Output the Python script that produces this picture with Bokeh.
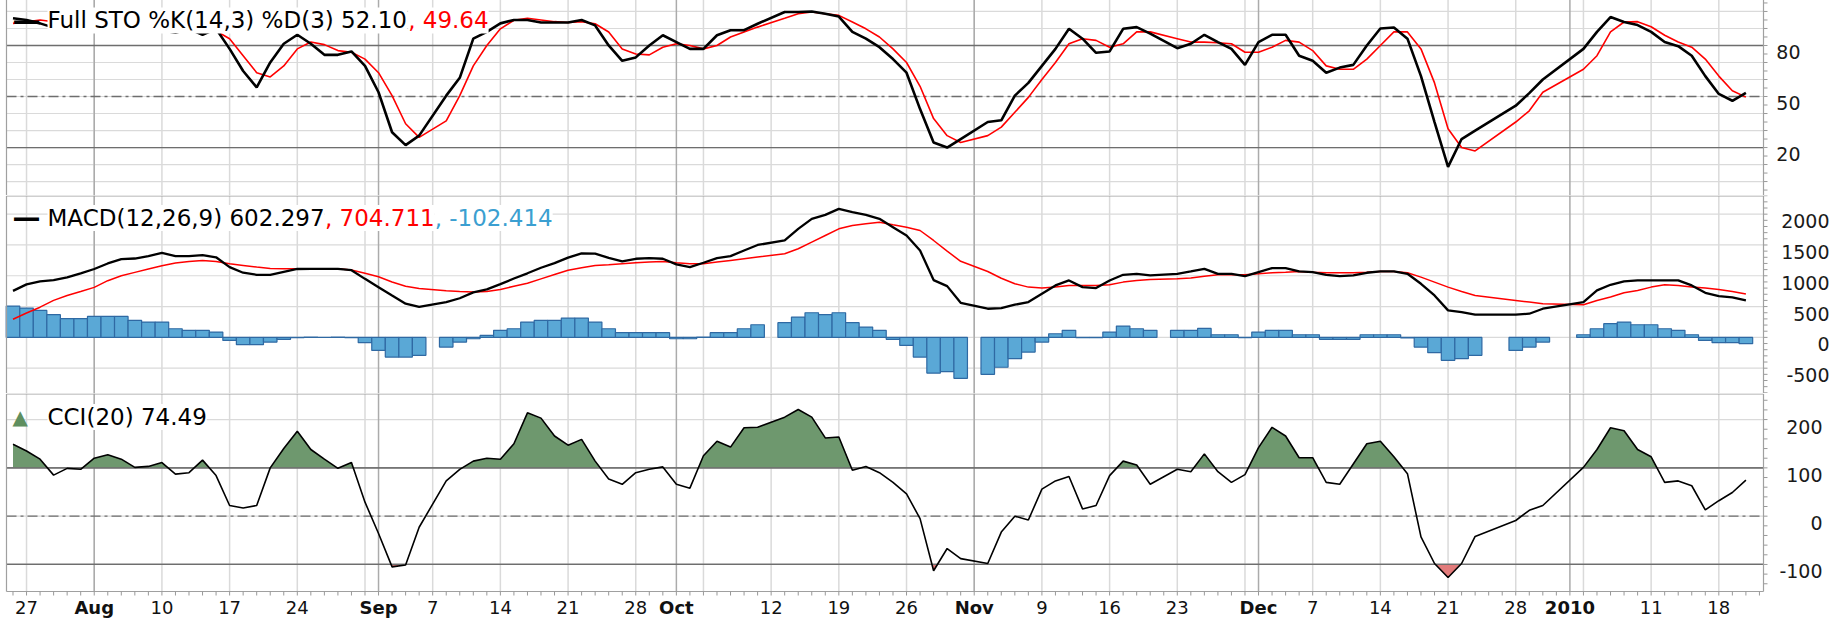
import numpy as np
import pandas as pd
from bokeh.plotting import figure
from bokeh.models import Range1d, Label
from bokeh.layouts import column
from bokeh.embed import file_html
from bokeh.resources import INLINE

# ---------------- calendar ----------------
first_day = "2009-07-24"
last_day = "2010-01-20"
holidays = ["2009-09-07", "2009-10-12", "2009-11-02", "2009-11-20",
            "2009-12-24", "2009-12-25", "2009-12-31", "2010-01-01"]

# ---------------- series (one value per trading day) ----------------
stoch_k = [96, 95, 93, 90.5, 89.8, 91.5, 94, 95, 93, 89, 89, 89, 87.5, 89.8, 86.3, 89.8, 78, 65, 55.4, 70, 81, 86.3, 81, 74.5, 74.5, 76.5, 68, 52.5, 29, 21.4, 27,
           50.5, 61, 84, 88, 93, 95, 95, 93.5, 93.5, 93.5, 95, 91.8, 80, 71, 73, 80, 86, 82, 78, 78, 86, 89, 89, 92.8,
           99.7, 99.7, 100, 98.7, 97, 88, 84, 79, 72, 64, 42.6, 23, 20, 25,
           35, 36, 50.5, 58, 68, 78, 89.8, 84, 75.7, 76.5, 89.8, 90.8, 87,
           78.4, 81, 86.3, 82, 78, 68.6, 82, 86.3, 86.3, 74, 71, 64, 67, 68.6, 80, 90, 90.6, 84, 62, 35, 8.6, 25, 30,
           44.6, 52, 60,
           78, 88, 96.7, 93.8, 92, 88, 82, 79.6, 74, 62, 51.5, 47.5, 52.10]
stoch_d = [93, 94, 95, 94, 92, 91, 92, 93.5, 91, 89, 88.9, 88.5, 88.3, 88.9, 87.5, 88.5, 84, 74, 64, 61.5, 68, 78, 82, 80.5, 77, 76, 72, 64, 50.5, 34, 26,
           35.7, 50.5, 68, 80, 89.8, 94.8, 96, 95, 94, 93.5, 94, 92.8, 87.9, 78, 75, 74.5, 79, 81, 80, 78, 80, 85, 88, 90.8,
           96, 98.7, 99.7, 98.7, 97.7, 93.8, 89.8, 85, 78, 70, 56, 37, 27, 23,
           27, 32, 40.7, 49.5, 60, 70, 81, 84, 83, 79, 81, 88, 88,
           84, 82, 82, 81.6, 81, 76, 76, 79, 83, 82, 77, 68, 66, 66, 72, 80, 88, 88, 78, 58, 31, 20, 18,
           35, 41.6, 52.5,
           66, 74, 88, 93.8, 94, 91, 86, 82, 79, 72, 62, 53.4, 49.64]
macd_line = [755, 860, 910, 930, 975, 1040, 1110, 1200, 1270, 1280, 1320, 1370, 1320, 1320, 1335, 1300, 1140, 1050, 1016, 1016, 1065, 1110, 1113, 1113, 1113, 1090, 950, 815, 680, 546, 495,
             573, 635, 730, 780, 865, 955, 1040, 1130, 1205, 1295, 1365, 1360, 1290, 1232, 1276, 1286, 1276, 1185, 1140, 1211, 1286, 1319, 1411, 1500,
             1573, 1760, 1924, 1989, 2086, 2032, 1989, 1924, 1789, 1654, 1411, 930, 832, 562,
             465, 476, 530, 573, 708, 843, 924, 816, 800, 924, 1016, 1032, 1005,
             1032, 1070, 1113, 1032, 1032, 994, 1059, 1124, 1124, 1070, 1059, 1016, 994, 1005, 1049, 1070, 1070, 1032, 870, 681, 438, 411, 368,
             368, 384, 465,
             573, 762, 854, 908, 924, 924, 924, 924, 843, 724, 670, 650, 602.297]
macd_signal = [295, 395, 490, 600, 680, 745, 812, 920, 1000, 1055, 1110, 1163, 1208, 1230, 1248, 1232, 1195, 1168, 1141, 1118, 1113, 1113, 1113, 1113, 1113, 1095, 1040, 984, 900, 830, 795,
               755, 745, 738, 746, 778, 830, 880, 950, 1020, 1090, 1130, 1165, 1178, 1195, 1211, 1222, 1232, 1211, 1195, 1195, 1222, 1249, 1276, 1303,
               1357, 1438, 1546, 1654, 1762, 1816, 1843, 1870, 1827, 1789, 1735, 1573, 1400, 1235,
               1070, 960, 870, 816, 800, 816, 843, 843, 843, 854, 897, 924, 940,
               951, 962, 994, 1016, 1016, 1016, 1032, 1049, 1059, 1070, 1059, 1049, 1049, 1049, 1059, 1070, 1070, 1049, 978, 897, 816, 746, 681,
               600, 573, 546,
               530, 600, 654, 724, 762, 816, 854, 843, 816, 800, 778, 746, 704.711]
macd_hist = [508, 476, 438, 368, 303, 303, 340, 340, 340, 276, 249, 249, 140, 114, 114, 86, -49, -119, -119, -76, -32, -5, 3, 2, 3, -3, -86, -211, -319, -319, -292,
             -157, -76, -22, 32, 114, 140, 249, 276, 276, 313, 313, 249, 140, 76, 76, 76, 76, -22, -22, 3, 76, 76, 140, 205,
             238, 330, 400, 368, 400, 238, 168, 114, -32, -130, -319, -580, -555, -665,
             -600, -485, -346, -238, -76, 59, 114, -3, -3, 86, 184, 140, 114,
             114, 114, 145, 43, 43, -3, 86, 114, 114, 43, 43, -32, -32, -32, 43, 43, 43, -10, -157, -249, -373, -346, -292,
             -211, -157, -76,
             43, 140, 222, 249, 205, 205, 140, 114, 43, -49, -86, -86, -102.414]
cci = [149, 135, 118, 85, 99, 97, 120, 127, 118, 101, 103, 111, 87, 90, 116, 84, 22, 17, 22, 100, 140, 176, 138, 118, 99, 111, 29, -36, -105, -101, -23,
       73, 97, 114, 120, 118, 150, 214, 203, 166, 147, 159, 114, 77, 66, 90, 97, 102, 66, 58, 125, 155, 143, 183, 184,
       205, 221, 205, 162, 164, 95, 103, 90, 70, 46, -5, -113, -67, -88,
       -98, -33, 0, -8, 56, 73, 82, 15, 22, 84, 114, 106, 66,
       97, 92, 129, 92, 70, 86, 142, 184, 166, 121, 121, 70, 66, 108, 150, 155, 123, 88, -43, -98, -127, -98, -42,
       -9, 12, 22,
       101, 138, 183, 177, 138, 123, 70, 73, 63, 13, 32, 49, 74.49]

# ---------------- axis text ----------------
label_dates = ["2009-07-27", "2009-08-03", "2009-08-10", "2009-08-17", "2009-08-24", "2009-09-01",
               "2009-09-07", "2009-09-14", "2009-09-21", "2009-09-28", "2009-10-01", "2009-10-12",
               "2009-10-19", "2009-10-26", "2009-11-02", "2009-11-09", "2009-11-16", "2009-11-23",
               "2009-12-01", "2009-12-07", "2009-12-14", "2009-12-21", "2009-12-28", "2010-01-01",
               "2010-01-11", "2010-01-18"]
label_texts = ["27", "Aug", "10", "17", "24", "Sep", "7", "14", "21", "28", "Oct", "12", "19", "26",
               "Nov", "9", "16", "23", "Dec", "7", "14", "21", "28", "2010", "11", "18"]
month_dates = ["2009-08-03", "2009-09-01", "2009-10-01", "2009-11-02", "2009-12-01", "2010-01-01"]
sto_ticks = [80, 50, 20]
macd_ticks = [2000, 1500, 1000, 500, 0, -500]
cci_ticks = [200, 100, 0, -100]

# ---------------- positions on a weekday axis ----------------
weekdays = pd.bdate_range(first_day, "2010-01-21")
pos = {d.strftime("%Y-%m-%d"): i for i, d in enumerate(weekdays)}
trading = [d for d in pd.bdate_range(first_day, last_day) if d.strftime("%Y-%m-%d") not in holidays]
x = np.array([pos[d.strftime("%Y-%m-%d")] for d in trading], dtype=float)
for s in (stoch_k, stoch_d, macd_line, macd_signal, macd_hist, cci):
    assert len(s) == len(x), (len(s), len(x))
mondays = [i for i, d in enumerate(weekdays) if d.weekday() == 0]
month_pos = [pos[d] for d in month_dates]

# ---------------- geometry ----------------
FONT = "DejaVu Sans"
W = 1847
FL = 8                       # frame left (px)
X0, X1 = -0.48, 129.3        # plotted data region
PX = 1757.0 / (X1 - X0)      # px per weekday
XR = Range1d(X0 - 2.0 / PX, X0 - 2.0 / PX + (W - FL) / PX)
GRID = "#dadada"
MONTH = "#ababab"
BORDER = "#a0a0a0"
REF = "#6e6e6e"
DASHDOT = "10 4 3 4"
TICK_FS = 19
XTICK_FS = 18
CAP = 0.729                  # DejaVu Sans cap height (em)


def make_fig(h, yr):
    p = figure(width=W, height=h, x_range=XR, y_range=Range1d(*yr),
               output_backend="svg", toolbar_location=None,
               x_axis_location=None, y_axis_location=None,
               min_border_left=FL, min_border_right=0, min_border_top=0, min_border_bottom=0)
    p.outline_line_color = None
    p.grid.visible = False
    return p


def frame(p, ymin, ymax, hgrid, minor, refs):
    p.segment(x0=mondays, y0=[ymin] * len(mondays), x1=mondays, y1=[ymax] * len(mondays),
              line_color=GRID, line_width=1.5)
    p.segment(x0=[X0] * len(hgrid), y0=hgrid, x1=[X1] * len(hgrid), y1=hgrid,
              line_color=GRID, line_width=1.2)
    p.segment(x0=month_pos, y0=[ymin] * len(month_pos), x1=month_pos, y1=[ymax] * len(month_pos),
              line_color=MONTH, line_width=1.5)
    for v, dash in refs:
        p.segment(x0=[X0], y0=[v], x1=[X1], y1=[v], line_color=REF, line_width=1.3, line_dash=dash)
    p.segment(x0=[X1] * len(minor), y0=minor, x1=[X1 + 4.0 / PX] * len(minor), y1=minor,
              line_color="#999999", line_width=1)


def borders(p, ymin, ymax, ppu, bottom=False):
    top = ymax - 0.5 / ppu
    xs0, ys0, xs1, ys1 = [X0, X1, X0], [ymin, ymin, top], [X0, X1, X1], [top, top, top]
    if bottom:
        xs0.append(X0); ys0.append(ymin); xs1.append(X1); ys1.append(ymin)
    p.segment(x0=xs0, y0=ys0, x1=xs1, y1=ys1, line_color=BORDER, line_width=1.2)


def ylabels(p, ticks, right, ppu):
    shift = CAP * TICK_FS / 2.0 / ppu
    for t in ticks:
        p.add_layout(Label(x=right - FL, y=t - shift, x_units="screen", y_units="data", text=str(t),
                           text_align="right", text_baseline="alphabetic", text_font=FONT,
                           text_font_size=f"{TICK_FS}px", text_color="#1a1a1a"))


CW = {' ': 0.318, '.': 0.318, ',': 0.318, '-': 0.361, '(': 0.390, ')': 0.390, '%': 0.950,
      'A': 0.684, 'C': 0.698, 'D': 0.770, 'F': 0.575, 'I': 0.295, 'K': 0.656, 'M': 0.863,
      'O': 0.787, 'S': 0.635, 'T': 0.611, 'l': 0.278, 'u': 0.634}


def tw(s, size):
    return sum(CW.get(c, 0.636) for c in s) * size


LEG = 23


def legend(p, fh, center_from_top, parts, icon, icon_color, icon_fs):
    base = fh - (center_from_top + CAP * LEG / 2.0)
    p.add_layout(Label(x=FL, y=base, x_units="screen", y_units="screen", text=icon,
                       text_align="left", text_baseline="alphabetic", text_font=FONT,
                       text_font_size=f"{icon_fs}px", text_font_style="bold", text_color=icon_color))
    xx = 51 - FL
    for txt, col in parts:
        p.add_layout(Label(x=xx, y=base, x_units="screen", y_units="screen", text=txt,
                           text_align="left", text_baseline="alphabetic", text_font=FONT,
                           text_font_size=f"{LEG}px", text_color=col,
                           background_fill_color="white", background_fill_alpha=1.0))
        xx += tw(txt, LEG)


# ---------------- STO panel ----------------
H1, Y1 = 199, (-8.2, 108.8)
p1 = make_fig(H1, Y1)
ppu1 = H1 / (Y1[1] - Y1[0])
frame(p1, Y1[0], Y1[1], list(range(0, 101, 10)), list(range(-5, 106, 5)),
      [(80, "solid"), (20, "solid"), (50, DASHDOT)])
p1.line(x, stoch_d, line_color="#ff0000", line_width=1.6)
p1.line(x, stoch_k, line_color="black", line_width=2.6)
borders(p1, Y1[0], Y1[1], ppu1)
ylabels(p1, sto_ticks, 1804, ppu1)
legend(p1, H1, 15.5, [(f"Full STO %K(14,3) %D(3) {stoch_k[-1]:.2f}", "black"),
                      (f", {stoch_d[-1]:.2f}", "#ff0000")], "\u2014", "black", 28)

# ---------------- MACD panel ----------------
H2, Y2 = 198, (-911, 2303)
p2 = make_fig(H2, Y2)
ppu2 = H2 / (Y2[1] - Y2[0])
frame(p2, Y2[0], Y2[1], [-500, 0, 500, 1000, 1500, 2000], list(range(-900, 2301, 100)), [])
p2.vbar(x=x, top=macd_hist, bottom=0, width=1.0, fill_color="#5aa8d6",
        line_color="#2f69a3", line_width=1.2)
p2.line(x, macd_signal, line_color="#ff0000", line_width=1.5)
p2.line(x, macd_line, line_color="black", line_width=2.3)
borders(p2, Y2[0], Y2[1], ppu2)
ylabels(p2, macd_ticks, 1833, ppu2)
legend(p2, H2, 14.0, [(f"MACD(12,26,9) {macd_line[-1]:.3f}", "black"),
                      (f", {macd_signal[-1]:.3f}", "#ff0000"),
                      (f", {macd_hist[-1]:.3f}", "#3b9fd1")], "\u2014", "black", 28)


# ---------------- CCI panel ----------------
def fill_beyond(xv, yv, level, above):
    xs, ys = [xv[0]], [yv[0]]
    for i in range(1, len(xv)):
        a, b = yv[i - 1], yv[i]
        if (a - level) * (b - level) < 0:
            t = (level - a) / (b - a)
            xs.append(xv[i - 1] + t * (xv[i] - xv[i - 1]))
            ys.append(level)
        xs.append(xv[i])
        ys.append(b)
    xs = np.array(xs, dtype=float)
    ys = np.array(ys, dtype=float)
    ys = np.maximum(ys, level) if above else np.minimum(ys, level)
    return xs, ys


H3_DATA, Y3 = 198, (-156, 254)
AX_H = 29
ppu3 = H3_DATA / (Y3[1] - Y3[0])
p3 = make_fig(H3_DATA + AX_H, (Y3[0] - AX_H / ppu3, Y3[1]))
frame(p3, Y3[0], Y3[1], [-100, 0, 100, 200], list(range(-140, 241, 20)),
      [(100, "solid"), (-100, "solid"), (0, DASHDOT)])
gx, gy = fill_beyond(x, cci, 100.0, True)
p3.varea(x=gx, y1=np.full_like(gx, 100.0), y2=gy, fill_color="#6e986e", fill_alpha=1.0)
rx, ry = fill_beyond(x, cci, -100.0, False)
p3.varea(x=rx, y1=np.full_like(rx, -100.0), y2=ry, fill_color="#e27b7b", fill_alpha=1.0)
p3.segment(x0=[X0, X0], y0=[100, -100], x1=[X1, X1], y1=[100, -100], line_color=REF, line_width=1.3)
p3.line(x, cci, line_color="black", line_width=1.6)
borders(p3, Y3[0], Y3[1], ppu3, bottom=True)
days = list(range(0, 130))
p3.segment(x0=days, y0=[Y3[0]] * len(days), x1=days, y1=[Y3[0] - 4.0 / ppu3] * len(days),
           line_color="#999999", line_width=1)
ylabels(p3, cci_ticks, 1826, ppu3)
legend(p3, H3_DATA + AX_H, 15.0, [(f"CCI(20) {cci[-1]:.2f}", "black")], "\u25B2", "#5f8f5f", 20)

for d, t in zip(label_dates, label_texts):
    p3.add_layout(Label(x=pos[d], y=13.5, x_units="data", y_units="screen", text=t,
                        text_align="center", text_baseline="middle", text_font=FONT,
                        text_font_size=f"{XTICK_FS}px",
                        text_font_style="bold" if d in month_dates else "normal",
                        text_color="#111111"))

layout = column(p1, p2, p3, margin=(-4, 0, 0, -4))
open("out.html", "w").write(file_html(layout, INLINE))
